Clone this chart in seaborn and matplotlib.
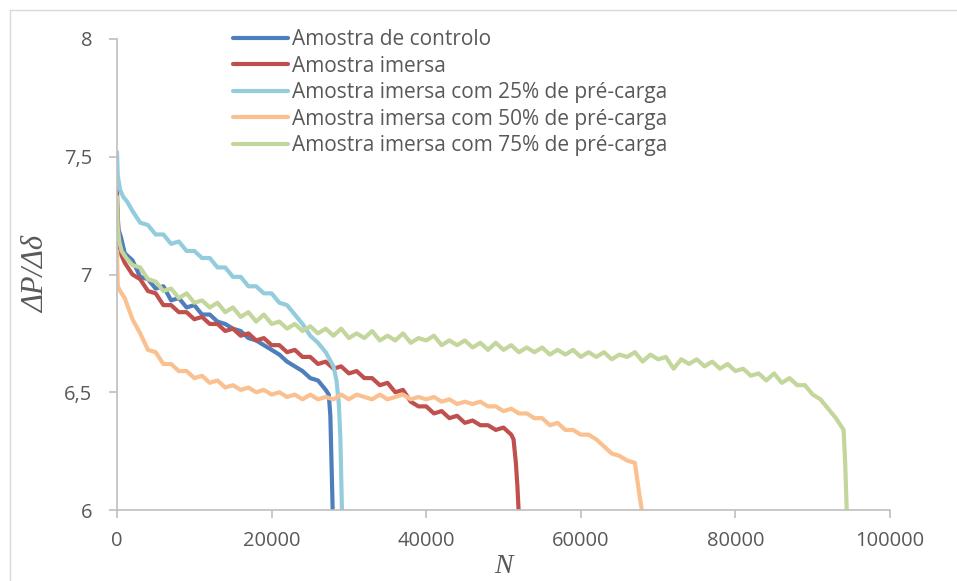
import numpy as np
import pandas as pd
import matplotlib
matplotlib.use("Agg")
import matplotlib.pyplot as plt
from matplotlib.lines import Line2D
from matplotlib.ticker import FuncFormatter, MultipleLocator
import seaborn as sns

# ---------------- data ----------------
labels = [
    "Amostra de controlo",
    "Amostra imersa",
    "Amostra imersa com 25% de pré-carga",
    "Amostra imersa com 50% de pré-carga",
    "Amostra imersa com 75% de pré-carga",
]
colors = ["#4F7EBD", "#C0504D", "#93CDDD", "#FAC090", "#C3D69B"]

n_ctrl = [0, 200, 500, 1000] + list(range(2000, 28000, 1000)) + [27400, 27600, 27750, 27900]
v_ctrl = [7.30, 7.19, 7.16, 7.09,
          7.06, 6.99, 6.98, 6.94, 6.95, 6.89, 6.90, 6.86, 6.87, 6.83, 6.83, 6.80, 6.79,
          6.77, 6.76, 6.73, 6.72, 6.70, 6.68, 6.66, 6.63, 6.61, 6.59, 6.56, 6.55, 6.51,
          6.49, 6.40, 6.20, 6.00]

n_imm = [0, 100, 300, 600, 1000] + list(range(2000, 52000, 1000)) + [51300, 51600, 51800, 51950]
v_imm = [7.36, 7.22, 7.12, 7.08, 7.05,
         7.00, 6.98, 6.93, 6.92, 6.87, 6.87, 6.84, 6.84, 6.81, 6.82, 6.79, 6.79, 6.76,
         6.77, 6.74, 6.75, 6.72, 6.73, 6.70, 6.70, 6.67, 6.68, 6.65, 6.65, 6.62, 6.63,
         6.60, 6.61, 6.58, 6.59, 6.56, 6.56, 6.53, 6.54, 6.50, 6.51, 6.46, 6.44, 6.44,
         6.41, 6.42, 6.39, 6.40, 6.37, 6.38, 6.36, 6.36, 6.34, 6.35, 6.32,
         6.30, 6.20, 6.10, 6.00]

n_25 = [0, 100, 400, 800, 1300, 2000] + list(range(3000, 29000, 1000)) + [28400, 28700, 28900, 29100]
v_25 = [7.52, 7.42, 7.36, 7.33, 7.31, 7.27,
        7.22, 7.21, 7.17, 7.17, 7.13, 7.14, 7.10, 7.10, 7.07, 7.07, 7.03, 7.03, 6.99,
        6.99, 6.95, 6.95, 6.92, 6.92, 6.88, 6.87, 6.83, 6.79, 6.74, 6.71, 6.67, 6.61,
        6.55, 6.45, 6.30, 6.00]

n_50 = [0, 100, 400, 1000] + list(range(2000, 68000, 1000)) + [67300, 67600, 67900]
v_50 = [7.10, 6.95, 6.93, 6.90,
        6.81, 6.75, 6.68, 6.67, 6.62, 6.62, 6.59, 6.59, 6.56, 6.57, 6.54, 6.55, 6.52,
        6.53, 6.51, 6.52, 6.50, 6.51, 6.49, 6.50, 6.48, 6.49, 6.47, 6.49, 6.47, 6.48,
        6.47, 6.49, 6.47, 6.49, 6.48, 6.47, 6.49, 6.47, 6.48, 6.49, 6.47, 6.48, 6.47,
        6.48, 6.46, 6.47, 6.45, 6.46, 6.45, 6.46, 6.44, 6.44, 6.42, 6.43, 6.41, 6.41,
        6.39, 6.39, 6.36, 6.37, 6.34, 6.34, 6.32, 6.32, 6.30, 6.27, 6.24, 6.23, 6.21,
        6.20,
        6.13, 6.06, 6.00]

n_75 = [0, 100, 300, 600, 1200, 2000] + list(range(3000, 95000, 1000)) + [94200, 94400]
v_75 = [7.33, 7.20, 7.14, 7.10, 7.07, 7.04,
        7.03, 6.98, 6.97, 6.93, 6.94, 6.90, 6.92, 6.88, 6.89, 6.86, 6.88, 6.84, 6.86,
        6.82, 6.84, 6.80, 6.83, 6.79, 6.80, 6.77, 6.79, 6.76, 6.78, 6.75, 6.77, 6.74,
        6.77, 6.73, 6.75, 6.73, 6.76, 6.72, 6.74, 6.72, 6.75, 6.71, 6.73, 6.72, 6.74,
        6.70, 6.72, 6.70, 6.72, 6.69, 6.71, 6.68, 6.71, 6.68, 6.70, 6.67, 6.69, 6.67,
        6.69, 6.66, 6.68, 6.66, 6.68, 6.65, 6.67, 6.65, 6.67, 6.64, 6.66, 6.65, 6.67,
        6.63, 6.66, 6.64, 6.65, 6.60, 6.64, 6.62, 6.64, 6.61, 6.63, 6.60, 6.62, 6.59,
        6.60, 6.57, 6.58, 6.55, 6.58, 6.54, 6.56, 6.53, 6.53, 6.49, 6.47, 6.43, 6.39,
        6.34,
        6.20, 6.00]

series_n = [n_ctrl, n_imm, n_25, n_50, n_75]
series_v = [v_ctrl, v_imm, v_25, v_50, v_75]

frames = []
for lab, nn, vv in zip(labels, series_n, series_v):
    frames.append(pd.DataFrame({"N": nn, "val": vv, "serie": lab}))
df = pd.concat(frames, ignore_index=True)

# ---------------- figure ----------------
sns.set_theme(style="white")
plt.rcParams["font.family"] = ["Open Sans", "DejaVu Sans"]

fig = plt.figure(figsize=(9.57, 5.81), dpi=100)
ax = fig.add_axes([117 / 957, 71 / 581, (890 - 117) / 957, (510 - 39) / 581])

sns.lineplot(data=df, x="N", y="val", hue="serie", hue_order=labels,
             palette=dict(zip(labels, colors)), sort=False, estimator=None,
             units="serie", linewidth=3.0, ax=ax, legend=False)

ax.set_xlim(0, 100000)
ax.set_ylim(6, 8)
ax.xaxis.set_major_locator(MultipleLocator(20000))
ax.yaxis.set_major_locator(MultipleLocator(0.5))
ax.yaxis.set_major_formatter(FuncFormatter(lambda v, p: ("%g" % v).replace(".", ",")))
ax.xaxis.set_major_formatter(FuncFormatter(lambda v, p: "%d" % v))

grey_axis = "#BFBFBF"
text_col = "#595959"
for s in ["top", "right"]:
    ax.spines[s].set_visible(False)
for s in ["left", "bottom"]:
    ax.spines[s].set_color(grey_axis)
    ax.spines[s].set_linewidth(1.2)
ax.tick_params(axis="both", which="major", direction="out", length=6, width=1.2,
               color=grey_axis, labelcolor=text_col, labelsize=14.5)
ax.tick_params(axis="x", pad=9, bottom=True)
ax.tick_params(axis="y", pad=12, left=True)
ax.grid(False)

ax.set_xlabel("N", fontsize=20, fontstyle="italic", family="Liberation Serif",
              color=text_col, labelpad=2)
ax.set_ylabel("ΔP/Δδ", fontsize=22, fontstyle="italic", family="Liberation Serif",
              color=text_col, labelpad=9)

handles = [Line2D([0], [0], color=c, lw=3) for c in colors]
fig.legend(handles, labels, loc="upper left", bbox_to_anchor=(233 / 957, 1 - 29 / 581),
           frameon=False, fontsize=15, handlelength=2.65, handletextpad=0.2,
           labelspacing=0.265, borderpad=0, borderaxespad=0, labelcolor=text_col)

# light border of the chart area
fig.add_artist(Line2D([9.5 / 957, 1], [1 - 9.5 / 581, 1 - 9.5 / 581],
                      transform=fig.transFigure, color="#D9D9D9", lw=1))
fig.add_artist(Line2D([9.5 / 957, 9.5 / 957], [0, 1 - 9.5 / 581],
                      transform=fig.transFigure, color="#D9D9D9", lw=1))

fig.savefig("out.png", dpi=100, facecolor="white")
